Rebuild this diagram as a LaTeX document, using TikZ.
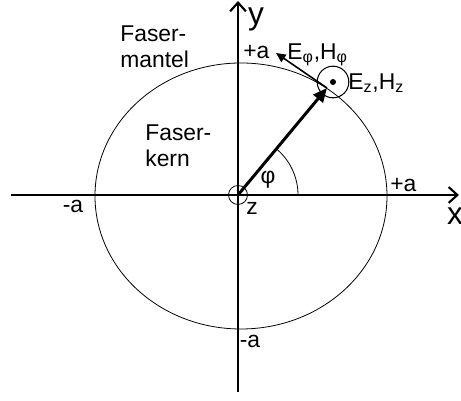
\documentclass[tikz,border=0pt]{standalone}
\usepackage{fontspec}
\setmainfont{Liberation Sans}
\usetikzlibrary{arrows.meta}

\begin{document}
\begin{tikzpicture}[x=0.2mm, y=0.2mm,
    lbl/.style={font=\fontsize{13}{14.5}\selectfont, inner sep=0pt},
    axis/.style={line width=1.2pt, -{Straight Barb[length=5pt,width=9pt,line width=1.2pt]}}]
  \useasboundingbox (-238,-206) rectangle (223,195);
  % axes
  \coordinate (O) at (0,0);
  \coordinate (xl) at (-227,0);
  \coordinate (xr) at (221,0);
  \coordinate (yb) at (0,-197);
  \coordinate (yt) at (0,194);
  \draw[axis] (xl) -- (xr);
  \draw[axis] (yb) -- (yt);
  \node[font=\fontsize{18}{18}\selectfont, inner sep=0pt] (ylab) at (18,176) {y};
  \node[font=\fontsize{18}{18}\selectfont, inner sep=0pt] (xlab) at (217,-21) {x};
  % fibre core boundary
  \draw[line width=0.45pt] (3,-1) ellipse [x radius=146, y radius=133];
  \node[lbl, anchor=west] (pa1) at (5,143) {+a};
  \node[lbl, anchor=west] (pa2) at (152,10) {+a};
  \node[lbl] (ma1) at (-165,-11) {-a};
  \node[lbl] (ma2) at (12,-146) {-a};
  \node[lbl, align=left, anchor=west] (mantel) at (-118,148) {Faser-\\mantel};
  \node[lbl, align=left, anchor=west] (kern) at (-93,49) {Faser-\\kern};
  % z axis and angle
  \draw[line width=0.45pt] (O) circle (9.5);
  \node[lbl] (zlab) at (14,-13) {z};
  \draw[line width=0.45pt] (60,0) arc (0:50.3:60);
  \node[lbl] (phi) at (30,15) {φ};
  % field components
  \coordinate (P) at (89,107);
  \coordinate (Ephi) at (38,142);
  \draw[line width=1.7pt, -{Triangle[length=8pt,width=7pt]}] (O) -- (P);
  \draw[line width=0.9pt, -{Triangle[length=5.5pt,width=5pt]}] (P) -- (Ephi);
  \node[draw, circle, line width=0.6pt, minimum size=18, inner sep=0pt] (ez) at (95,113) {};
  \fill (ez.center) circle (3);
  \node[lbl, anchor=west] (ephilab) at (49,140) {E\textsubscript{φ},H\textsubscript{φ}};
  \node[lbl, anchor=west] (ezlab) at (110,112) {E\textsubscript{z},H\textsubscript{z}};
\end{tikzpicture}
\end{document}
